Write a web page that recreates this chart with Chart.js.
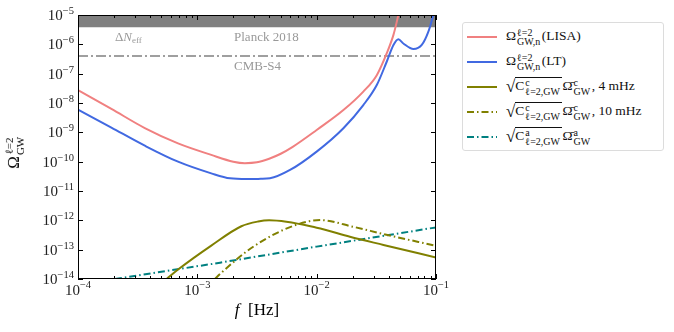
<!DOCTYPE html>
<html>
<head>
<meta charset="utf-8">
<script src="https://cdn.jsdelivr.net/npm/chart.js@4.4.1/dist/chart.umd.min.js"></script>
<style>
body { margin: 0; background: #fff; }
#wrap { position: relative; width: 674px; height: 332px; font-family: "Liberation Serif", "DejaVu Serif", serif; }
#chart { position: absolute; left: 0; top: 0; }
#legend { position: absolute; left: 462px; top: 22px; width: 202px; height: 129px; border: 1px solid #dcdcdc; border-radius: 3px; background: #fff; padding-top: 1px; box-sizing: border-box; }
.row { height: 25px; display: flex; align-items: center; font-size: 13.5px; color: #111; white-space: nowrap; }
.row svg { margin-left: 4px; margin-right: 9px; flex: none; }
.ss { display: inline-flex; flex-direction: column; vertical-align: middle; font-size: 10px; line-height: 9px; margin: 0 1.5px 0 1px; }
.rad { font-size: 17px; line-height: 13px; vertical-align: -2px; }
.ov { display: inline-block; border-top: 1px solid #111; line-height: 15px; padding-right: 1px; }
#ylab { position: absolute; left: -10px; top: 141px; width: 50px; text-align: center; transform: rotate(-90deg); font-size: 17px; white-space: nowrap; }
#ylab .ss { font-size: 11px; line-height: 11px; }
#xlab { position: absolute; left: 207px; top: 300px; width: 100px; text-align: center; font-size: 17px; }
</style>
</head>
<body>
<div id="wrap">
  <canvas id="chart" width="674" height="332"></canvas>
  <div id="ylab">Ω<span class="ss"><span>ℓ=2</span><span>GW</span></span></div>
  <div id="xlab"><i>f</i>&nbsp; [Hz]</div>
  <div id="legend"></div>
</div>
<script>
// noise curves
const lisaFreq = [1e-4, 1.905e-4, 3.63e-4, 6.89e-4, 1.309e-3, 2.0e-3, 2.5e-3, 3.16e-3, 4.0e-3, 5.0e-3, 6.3e-3, 1.0e-2, 1.675e-2, 2.46e-2, 3.19e-2, 3.87e-2, 4.40e-2, 4.84e-2, 5.25e-2];
const lisaOmega = [2.75e-8, 6.3e-9, 1.4e-9, 4.2e-10, 1.7e-10, 1.0e-10, 8.9e-11, 9.5e-11, 1.26e-10, 1.86e-10, 3.2e-10, 1.2e-9, 5.75e-9, 2.45e-8, 8.9e-8, 5.0e-7, 2.1e-6, 1.0e-5, 4.0e-5];

const ltFreq = [1e-4, 1.905e-4, 3.63e-4, 6.89e-4, 1.309e-3, 1.88e-3, 2.6e-3, 3.4e-3, 4.06e-3, 5.98e-3, 1.0e-2, 1.675e-2, 2.46e-2, 3.19e-2, 3.87e-2, 4.40e-2, 4.84e-2, 5.33e-2, 6.47e-2, 7.6e-2, 8.63e-2, 9.5e-2, 1e-1];
const ltOmega = [6.0e-9, 1.45e-9, 3.5e-10, 1.0e-10, 4.0e-11, 2.7e-11, 2.55e-11, 2.6e-11, 2.7e-11, 5.2e-11, 2.2e-10, 1.38e-9, 8.5e-9, 4.1e-8, 2.6e-7, 9.5e-7, 1.5e-6, 1.07e-6, 6.9e-7, 9.5e-7, 2.7e-6, 1.0e-5, 2.0e-5];

// signals
const c4Freq = [5.53e-4, 6.89e-4, 1.309e-3, 2.34e-3, 3.23e-3, 4.0e-3, 1.0e-2, 1.9e-2, 3.63e-2, 1e-1];
const c4Omega = [1.0e-14, 2.1e-14, 1.38e-13, 6.3e-13, 9.1e-13, 1.0e-12, 5.6e-13, 2.75e-13, 1.45e-13, 5.4e-14];

const c10Freq = [1.406e-3, 1.55e-3, 2.94e-3, 6.38e-3, 1.07e-2, 2.03e-2, 3.63e-2, 1e-1];
const c10Omega = [1.0e-14, 1.48e-14, 1.26e-13, 6.5e-13, 1.02e-12, 6.0e-13, 3.4e-13, 1.35e-13];

const caFreq = [2.04e-4, 1.55e-3, 1e-2, 1e-1];
const caOmega = [1.0e-14, 3.6e-14, 1.27e-13, 5.75e-13];

// bounds
const planckLimit = 3.8e-6;
const cmbS4Limit = 4e-7;
const boundFreq = [1e-4, 1e-1];

const xTickExps = [-4, -3, -2, -1];
const yTickExps = [-14, -13, -12, -11, -10, -9, -8, -7, -6, -5];

const serif = '"Liberation Serif", "DejaVu Serif", serif';
const dashDot = [7, 3, 1.5, 3];

function pts(fs, vs) {
  return fs.map((f, i) => ({ x: f, y: vs[i] }));
}

function sqrtLabel(up) {
  return '<span class="rad">√</span><span class="ov">C<span class="ss"><span>' + up +
    '</span><span>ℓ=2,GW</span></span></span>Ω\u0304<span class="ss"><span>' + up + '</span><span>GW</span></span>';
}

const series = [
  { data: pts(lisaFreq, lisaOmega), color: '#f08080', dash: [],
    label: 'Ω<span class="ss"><span>ℓ=2</span><span>GW,n</span></span>(LISA)' },
  { data: pts(ltFreq, ltOmega), color: '#4169e1', dash: [],
    label: 'Ω<span class="ss"><span>ℓ=2</span><span>GW,n</span></span>(LT)' },
  { data: pts(c4Freq, c4Omega), color: '#808000', dash: [],
    label: sqrtLabel('c') + ', 4 mHz' },
  { data: pts(c10Freq, c10Omega), color: '#808000', dash: dashDot,
    label: sqrtLabel('c') + ', 10 mHz' },
  { data: pts(caFreq, caOmega), color: '#008080', dash: dashDot, straight: true,
    label: sqrtLabel('a') }
];

const datasets = series.map(s => ({
  data: s.data,
  borderColor: s.color,
  borderWidth: 2,
  borderDash: s.dash,
  pointRadius: 0,
  fill: false,
  cubicInterpolationMode: s.straight ? 'default' : 'monotone',
  tension: 0,
  order: 1
}));

datasets.push({
  data: boundFreq.map(f => ({ x: f, y: cmbS4Limit })),
  borderColor: '#808080',
  borderWidth: 1.5,
  borderDash: [10, 3, 2, 3],
  pointRadius: 0,
  fill: false,
  order: 5
});
datasets.push({
  data: boundFreq.map(f => ({ x: f, y: planckLimit })),
  borderWidth: 0,
  borderColor: 'rgba(0,0,0,0)',
  backgroundColor: '#808080',
  pointRadius: 0,
  fill: 'end',
  order: 10
});

// legend
const legend = document.getElementById('legend');
series.forEach(s => {
  const row = document.createElement('div');
  row.className = 'row';
  row.innerHTML = '<svg width="30" height="10"><line x1="0" y1="5" x2="30" y2="5" stroke="' + s.color +
    '" stroke-width="2" stroke-dasharray="' + (s.dash.length ? s.dash.join(' ') : 'none') + '"/></svg><span>' + s.label + '</span>';
  legend.appendChild(row);
});

const deco = {
  id: 'deco',
  afterDraw(chart) {
    const { ctx, chartArea: a, scales: { x, y } } = chart;
    ctx.save();
    ctx.strokeStyle = '#000';
    ctx.lineWidth = 1;
    ctx.strokeRect(a.left + 0.5, a.top + 0.5, a.right - a.left - 1, a.bottom - a.top - 1);

    ctx.beginPath();
    xTickExps.forEach((e, i) => {
      for (let k = 1; k <= 9; k++) {
        if (k > 1 && i === xTickExps.length - 1) break;
        const px = Math.round(x.getPixelForValue(k * Math.pow(10, e))) + 0.5;
        const len = k === 1 ? 5 : 3;
        ctx.moveTo(px, a.bottom); ctx.lineTo(px, a.bottom - len);
        ctx.moveTo(px, a.top); ctx.lineTo(px, a.top + len);
      }
    });
    yTickExps.forEach(e => {
      const py = Math.round(y.getPixelForValue(Math.pow(10, e))) + 0.5;
      ctx.moveTo(a.left, py); ctx.lineTo(a.left + 5, py);
      ctx.moveTo(a.right, py); ctx.lineTo(a.right - 5, py);
    });
    ctx.stroke();

    ctx.fillStyle = '#222';
    ctx.textBaseline = 'alphabetic';
    ctx.textAlign = 'left';
    yTickExps.forEach(e => {
      const py = y.getPixelForValue(Math.pow(10, e));
      const ex = '\u2212' + Math.abs(e);
      ctx.font = '15px ' + serif;
      const w1 = ctx.measureText('10').width;
      ctx.font = '10.5px ' + serif;
      const w2 = ctx.measureText(ex).width;
      const right = a.left - 4;
      ctx.font = '15px ' + serif;
      ctx.fillText('10', right - w2 - w1, py + 5);
      ctx.font = '10.5px ' + serif;
      ctx.fillText(ex, right - w2, py - 1);
    });
    xTickExps.forEach(e => {
      const px = x.getPixelForValue(Math.pow(10, e));
      const ex = '\u2212' + Math.abs(e);
      ctx.font = '15px ' + serif;
      const w1 = ctx.measureText('10').width;
      ctx.font = '10.5px ' + serif;
      const w2 = ctx.measureText(ex).width;
      const left = px - (w1 + w2) / 2;
      ctx.font = '15px ' + serif;
      ctx.fillText('10', left, a.bottom + 16);
      ctx.font = '10.5px ' + serif;
      ctx.fillText(ex, left + w1, a.bottom + 9);
    });

    // annotations
    ctx.fillStyle = '#999';
    let tx = x.getPixelForValue(2.04e-4), ty = y.getPixelForValue(1.25e-6);
    ctx.font = '13px ' + serif;
    ctx.fillText('\u0394', tx, ty);
    tx += ctx.measureText('\u0394').width;
    ctx.font = 'italic 13px ' + serif;
    ctx.fillText('N', tx, ty);
    tx += ctx.measureText('N').width;
    ctx.font = '9px ' + serif;
    ctx.fillText('eff', tx, ty + 2);

    ctx.font = '13px ' + serif;
    ctx.fillText('Planck 2018', x.getPixelForValue(2.03e-3), y.getPixelForValue(1.25e-6));
    ctx.fillText('CMB-S4', x.getPixelForValue(2.03e-3), y.getPixelForValue(1.34e-7));
    ctx.restore();
  }
};

new Chart(document.getElementById('chart'), {
  type: 'line',
  data: { datasets: datasets },
  plugins: [deco],
  options: {
    responsive: false,
    animation: false,
    layout: { padding: { left: 0, right: 238, top: 15, bottom: 0 } },
    plugins: { legend: { display: false }, tooltip: { enabled: false } },
    scales: {
      x: {
        type: 'logarithmic', min: 1e-4, max: 1e-1,
        grid: { display: false }, border: { display: false },
        ticks: { display: false },
        afterFit(scale) { scale.height = 53; }
      },
      y: {
        type: 'logarithmic', min: 1e-14, max: 1e-5,
        grid: { display: false }, border: { display: false },
        ticks: { display: false },
        afterFit(scale) { scale.width = 78; }
      }
    }
  }
});
</script>
</body>
</html>
